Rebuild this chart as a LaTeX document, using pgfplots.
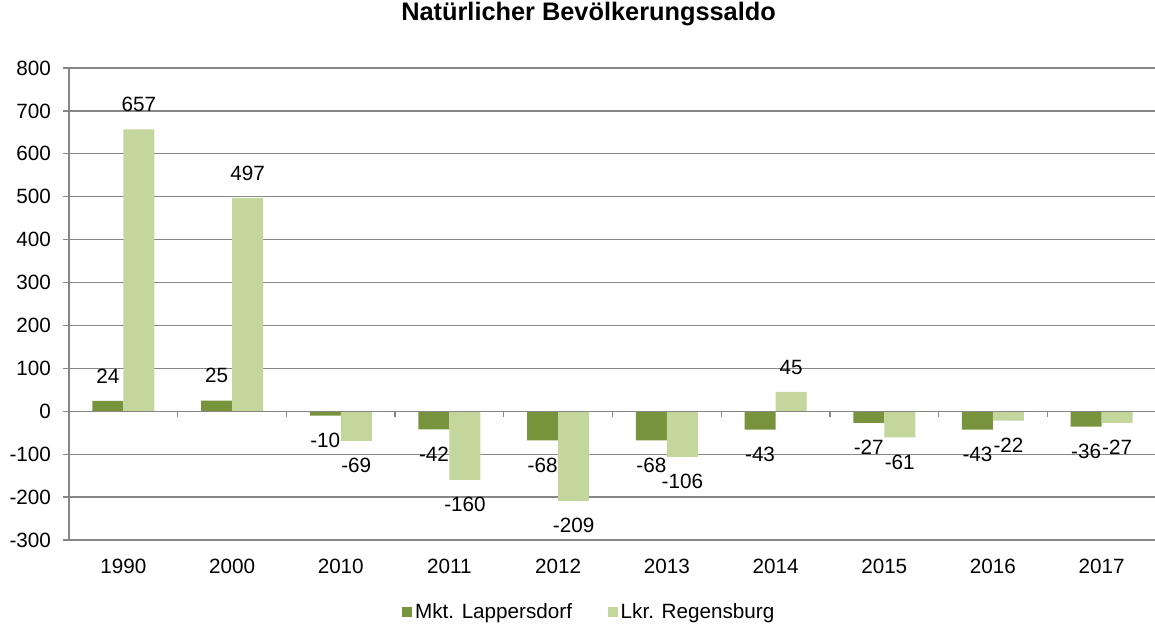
\documentclass[border=0pt]{standalone}
\usepackage{fontspec}
\setmainfont{Liberation Sans}
\usepackage{pgfplots}
\pgfplotsset{compat=1.18}
\definecolor{dunkel}{HTML}{77933C}
\definecolor{hell}{HTML}{C3D69B}
\definecolor{achse}{HTML}{868686}
\newcommand{\lbl}{\fontsize{15.5}{18}\selectfont}

\begin{document}
\begin{tikzpicture}
% the reference is cut at its right edge, inside the last category
\path[use as bounding box] (-51.75pt,-63.75pt) rectangle (814.5pt,405pt);
\begin{axis}[
  at={(0,0)}, anchor=south west,
  scale only axis, width=815.25pt, height=354pt,
  ybar=0pt, bar width=23.25pt,
  xmin=-0.5, xmax=9.5, ymin=-300, ymax=800,
  ytick={-300,-200,...,800},
  xtick={0,...,9},
  xticklabels={1990,2000,2010,2011,2012,2013,2014,2015,2016,2017},
  axis lines*=left,
  axis line style={achse, line width=1pt},
  ymajorgrids, grid style={achse, line width=1pt},
  tick align=outside, major tick length=4.5pt,
  ytick style={achse, line width=1pt},
  xtick style={draw=none},
  /pgf/number format/assume math mode=true,
  ticklabel style={font=\lbl, black},
  xticklabel style={yshift=-6pt},
  yticklabel style={xshift=-5.5pt},
  nodes near coords, nodes near coords align=vertical,
  every node near coord/.append style={font=\lbl, black, inner ysep=13pt},
  title={Natürlicher Bevölkerungssaldo},
  title style={font=\fontsize{19}{22}\selectfont\bfseries, at={(0.478,1.0975)}, anchor=center},
  legend style={at={(0.479,-0.1525)}, anchor=center, draw=none, fill=none,
    font=\lbl, legend columns=2, inner sep=0pt,
    /tikz/every even column/.append style={column sep=25pt}},
  legend image code/.code={\fill[#1] (0pt,-3.75pt) rectangle (7.5pt,3.75pt);},
]
\addplot[fill=dunkel, draw=none] coordinates {
  (0,24) (1,25) (2,-10) (3,-42) (4,-68) (5,-68) (6,-43) (7,-27) (8,-43) (9,-36)};
\addlegendentry{Mkt. Lappersdorf}
\addplot[fill=hell, draw=none] coordinates {
  (0,657) (1,497) (2,-69) (3,-160) (4,-209) (5,-106) (6,45) (7,-61) (8,-22) (9,-27)};
\addlegendentry{Lkr. Regensburg}
\draw[achse, line width=1pt] (axis cs:-0.5,0) -- (axis cs:9.5,0);
\pgfplotsinvokeforeach{0.5,1.5,2.5,3.5,4.5,5.5,6.5,7.5,8.5}{
  \draw[achse, line width=1pt] (axis cs:#1,0) -- ([yshift=-4pt]axis cs:#1,0);
}
\end{axis}
\end{tikzpicture}
\end{document}
